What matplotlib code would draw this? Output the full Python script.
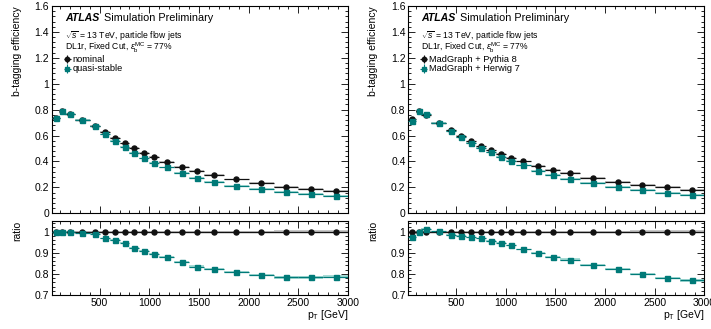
import numpy as np
import matplotlib
matplotlib.use('Agg')
import matplotlib.pyplot as plt
from matplotlib.ticker import MultipleLocator, FuncFormatter

plt.rcParams['font.family'] = ['Liberation Sans', 'DejaVu Sans']
plt.rcParams['mathtext.fontset'] = 'custom'
plt.rcParams['mathtext.rm'] = 'Liberation Sans'
plt.rcParams['mathtext.it'] = 'Liberation Sans:italic'
plt.rcParams['mathtext.bf'] = 'Liberation Sans:bold'

# pT bin edges [GeV]
bin_edges = [20, 100, 150, 250, 400, 500, 600, 700, 800, 900, 1000,
             1100, 1250, 1400, 1550, 1750, 2000, 2250, 2500, 2750, 3000]

# left: nominal vs quasi-stable
eff_nominal = [0.735, 0.792, 0.769, 0.723, 0.676, 0.627, 0.581, 0.539, 0.503, 0.467,
               0.436, 0.397, 0.359, 0.328, 0.297, 0.261, 0.232, 0.206, 0.188, 0.173]
eff_quasi = [0.735, 0.792, 0.769, 0.723, 0.671, 0.609, 0.557, 0.514, 0.465, 0.423,
             0.390, 0.354, 0.310, 0.274, 0.245, 0.212, 0.186, 0.163, 0.147, 0.134]
ratio_quasi = [1.000, 1.000, 1.000, 0.995, 0.990, 0.968, 0.960, 0.947, 0.924, 0.908,
               0.895, 0.881, 0.858, 0.835, 0.824, 0.810, 0.795, 0.784, 0.784, 0.787]

# right: Pythia 8 vs Herwig 7
eff_pythia = [0.730, 0.787, 0.761, 0.699, 0.640, 0.599, 0.555, 0.516, 0.485, 0.457,
              0.428, 0.400, 0.366, 0.335, 0.310, 0.274, 0.243, 0.222, 0.201, 0.183]
eff_herwig = [0.715, 0.787, 0.769, 0.699, 0.632, 0.586, 0.542, 0.503, 0.470, 0.434,
              0.403, 0.369, 0.330, 0.297, 0.263, 0.232, 0.201, 0.178, 0.157, 0.139]
ratio_herwig = [0.974, 1.000, 1.013, 1.002, 0.984, 0.981, 0.974, 0.968, 0.956, 0.948,
                0.935, 0.916, 0.900, 0.881, 0.868, 0.842, 0.823, 0.800, 0.781, 0.771]

# small systematic band half-heights
band_eff = [0.006, 0.005, 0.005, 0.005, 0.005, 0.005, 0.005, 0.005, 0.005, 0.005,
            0.005, 0.005, 0.005, 0.006, 0.006, 0.006, 0.006, 0.007, 0.007, 0.008]
band_ratio = [0.004, 0.003, 0.003, 0.003, 0.003, 0.003, 0.003, 0.003, 0.004, 0.004,
              0.004, 0.004, 0.005, 0.005, 0.005, 0.005, 0.005, 0.006, 0.006, 0.007]

TEAL = '#007a78'
TEAL_LIGHT = '#a8dcd6'
GREY_LIGHT = '#c8c8c8'

edges = np.array(bin_edges)
centers = 0.5 * (edges[1:] + edges[:-1])
half_w = 0.5 * (edges[1:] - edges[:-1])
ones = np.ones(len(centers))


def fmt(v, pos):
    return '%g' % round(v, 3)


def style_axes(ax):
    ax.tick_params(which='both', direction='in', top=True, right=True,
                   labelsize=7.5, width=0.6, pad=2)
    ax.tick_params(which='major', length=5)
    ax.tick_params(which='minor', length=2.5)
    ax.xaxis.set_major_locator(MultipleLocator(500))
    ax.xaxis.set_minor_locator(MultipleLocator(100))
    ax.yaxis.set_major_formatter(FuncFormatter(fmt))
    for s in ax.spines.values():
        s.set_linewidth(0.8)
    ax.set_xlim(20, 3000)


def draw_series(ax, y, band, color, light, marker):
    y = np.array(y)
    ax.bar(centers, 2 * np.array(band), bottom=y - np.array(band), width=2 * half_w,
           color=light, linewidth=0, zorder=1)
    ax.errorbar(centers, y, xerr=half_w, fmt=marker, color=color, ms=3.6,
                elinewidth=0.9, capsize=0, zorder=3)


def draw_panel(x0, top_data, ratio_data, labels):
    w = 0.4165
    ax = fig.add_axes([x0, 0.3517, w, 0.6301])
    rx = fig.add_axes([x0, 0.1033, w, 0.2259])
    (y_black, y_teal) = top_data
    draw_series(ax, y_black, band_eff, '#111111', GREY_LIGHT, 'o')
    draw_series(ax, y_teal, band_eff, TEAL, TEAL_LIGHT, 's')
    ax.set_ylim(0, 1.6)
    style_axes(ax)
    ax.yaxis.set_major_locator(MultipleLocator(0.2))
    ax.yaxis.set_minor_locator(MultipleLocator(0.04))
    ax.set_xticklabels([])
    ax.set_ylabel('b-tagging efficiency', fontsize=7.5, loc='top', labelpad=9)

    ax.text(0.044, 0.926, 'ATLAS', transform=ax.transAxes, fontsize=7.6,
            fontweight='bold', fontstyle='italic')
    ax.text(0.175, 0.926, 'Simulation Preliminary', transform=ax.transAxes, fontsize=7.8)
    ax.text(0.044, 0.845, r'$\sqrt{s}$ = 13 TeV, particle flow jets',
            transform=ax.transAxes, fontsize=6.2)
    ax.text(0.044, 0.786, r'DL1r, Fixed Cut, $\varepsilon_{\rm b}^{\rm MC}$ = 77%',
            transform=ax.transAxes, fontsize=6.2)
    ax.errorbar([0.052], [0.743], xerr=[0.012], yerr=[0.02], fmt='o', color='#111111',
                ms=3.2, elinewidth=0.8, transform=ax.transAxes, clip_on=False)
    ax.errorbar([0.052], [0.698], xerr=[0.012], yerr=[0.02], fmt='s', color=TEAL,
                ms=3.2, elinewidth=0.8, transform=ax.transAxes, clip_on=False)
    ax.text(0.07, 0.743, labels[0], transform=ax.transAxes, fontsize=6.7, va='center')
    ax.text(0.07, 0.698, labels[1], transform=ax.transAxes, fontsize=6.7, va='center')

    rx.axhline(1, color='#222222', lw=0.8, zorder=2)
    draw_series(rx, ones, band_ratio, '#111111', GREY_LIGHT, 'o')
    draw_series(rx, ratio_data, band_ratio, TEAL, TEAL_LIGHT, 's')
    rx.set_ylim(0.7, 1.052)
    style_axes(rx)
    rx.yaxis.set_major_locator(MultipleLocator(0.1))
    rx.yaxis.set_minor_locator(MultipleLocator(0.02))
    rx.xaxis.set_major_formatter(FuncFormatter(fmt))
    rx.set_ylabel('ratio', fontsize=7.5, loc='top', labelpad=9)
    rx.set_xlabel(r'p$_{\rm T}$ [GeV]', fontsize=7.5, loc='right', labelpad=0)


fig = plt.figure(figsize=(7.11, 3.29), dpi=100)
draw_panel(0.0731, (eff_nominal, eff_quasi), ratio_quasi, ('nominal', 'quasi-stable'))
draw_panel(0.5743, (eff_pythia, eff_herwig), ratio_herwig,
           ('MadGraph + Pythia 8', 'MadGraph + Herwig 7'))
fig.savefig('out.png', dpi=100)
